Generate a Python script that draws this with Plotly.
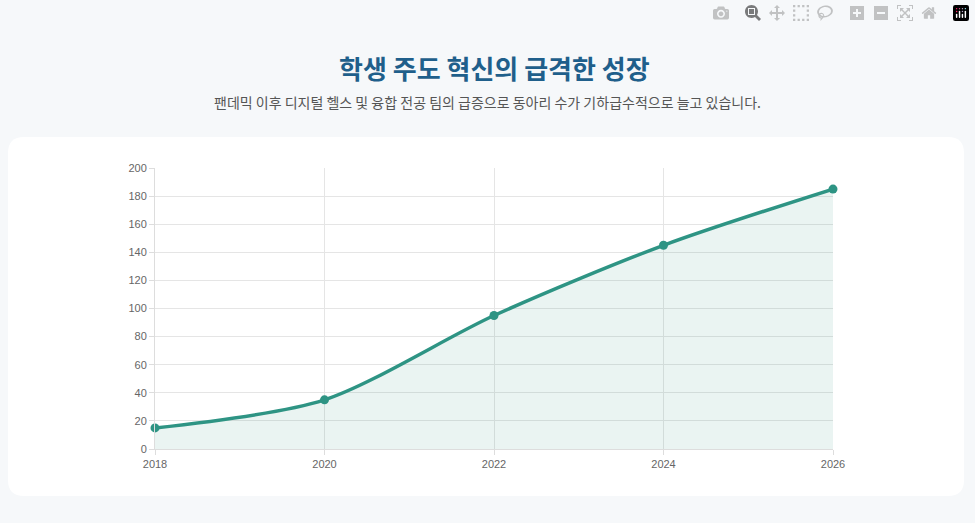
import plotly.graph_objects as go

years = [2018, 2020, 2022, 2024, 2026]
clubs = [15, 35, 95, 145, 185]
x_ticks = [2018, 2020, 2022, 2024, 2026]

W, H = 975, 523
L, R, T, B = 155, 142, 168, 74
pw, ph = W - L - R, H - T - B
def px(x): return (x - L) / pw
def py(y): return (H - B - y) / ph

fig = go.Figure()
fig.add_trace(go.Scatter(x=years, y=clubs, mode="lines+markers", cliponaxis=False,
    line=dict(color="#2e9484", width=3.5, shape="spline", smoothing=0.8),
    marker=dict(size=9, color="#2e9484"),
    fill="tozeroy", fillcolor="rgba(46,148,132,0.1)", hoverinfo="x+y"))

x0, x1, y0, y1 = px(8), px(964), py(496), py(137)
rx, ry = 16 / pw, 16 / ph
path = (f"M {x0+rx},{y0} L {x1-rx},{y0} Q {x1},{y0} {x1},{y0+ry} L {x1},{y1-ry} "
        f"Q {x1},{y1} {x1-rx},{y1} L {x0+rx},{y1} Q {x0},{y1} {x0},{y1-ry} "
        f"L {x0},{y0+ry} Q {x0},{y0} {x0+rx},{y0} Z")
fig.add_shape(type="path", path=path, xref="paper", yref="paper",
              fillcolor="white", line=dict(width=0), layer="below")

fig.add_annotation(text="<b>학생 주도 혁신의 급격한 성장</b>", x=0.5, y=py(47),
    xref="paper", yref="paper", showarrow=False,
    font=dict(size=26, color="#1f5f8b", family="Noto Sans CJK KR"))
fig.add_annotation(text="팬데믹 이후 디지털 헬스 및 융합 전공 팀의 급증으로 동아리 수가 기하급수적으로 늘고 있습니다.",
    x=(487 - L) / pw, y=py(90), xref="paper", yref="paper", showarrow=False,
    font=dict(size=14, color="#555", family="Noto Sans CJK KR"))

fig.update_layout(width=W, height=H, margin=dict(l=L, r=R, t=T, b=B),
    paper_bgcolor="#f6f8fa", plot_bgcolor="white", showlegend=False,
    font=dict(family="Liberation Sans, Arial", size=11, color="#666"))
fig.update_xaxes(range=[2018, 2026], tickvals=x_ticks, showgrid=True,
    gridcolor="#e5e5e5", showline=True, linecolor="#ddd", zeroline=False,
    ticks="outside", ticklen=5, tickcolor="#ddd")
fig.update_yaxes(range=[0, 200], dtick=20, showgrid=True, gridcolor="#e5e5e5",
    showline=True, linecolor="#ddd", zeroline=False, ticks="outside",
    ticklen=5, tickcolor="#ddd")
fig.write_html("out.html")

with open("out.html", encoding="utf-8") as f:
    html = f.read()
html = html.replace("<body>", '<body style="margin:0;background:#f6f8fa;overflow:hidden">', 1)
with open("out.html", "w", encoding="utf-8") as f:
    f.write(html)
